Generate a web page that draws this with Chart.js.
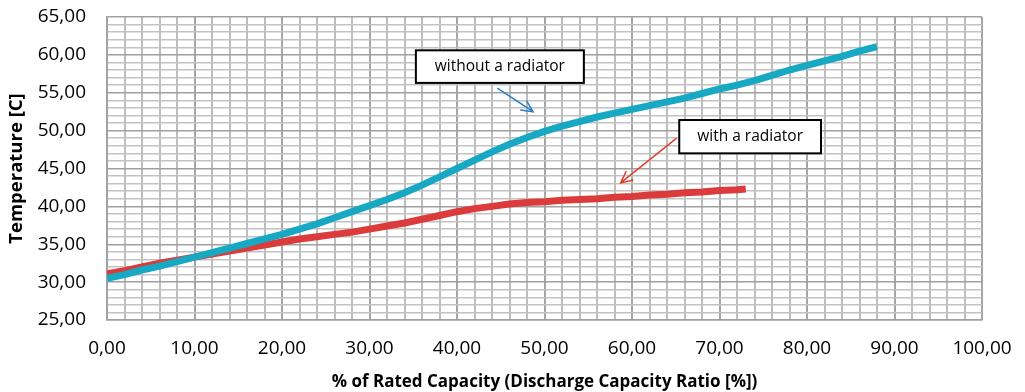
<!DOCTYPE html>
<html>
<head>
<meta charset="utf-8">
<script src="https://cdn.jsdelivr.net/npm/chart.js@4.4.1/dist/chart.umd.min.js"></script>
<style>
  html, body { margin: 0; padding: 0; background: #ffffff; }
  #wrap { width: 1025px; height: 392px; position: relative; }
</style>
</head>
<body>
<div id="wrap"><canvas id="c" width="1025" height="392"></canvas></div>
<script>
// ---- Data ----
const capacityWithout = [0,2,4,6,8,10,12,14,16,18,20,22,24,26,28,30,32,34,36,38,40,42,44,46,48,50,52,54,56,58,60,62,64,66,68,70,72,74,76,78,80,82,84,86,88];
const tempWithout = [30.5,31.0,31.6,32.1,32.7,33.3,33.9,34.5,35.1,35.7,36.3,37.0,37.7,38.5,39.3,40.1,40.9,41.8,42.8,43.9,45.0,46.1,47.2,48.2,49.1,49.9,50.6,51.2,51.8,52.3,52.8,53.3,53.8,54.3,54.9,55.5,56.0,56.6,57.3,58.0,58.6,59.2,59.8,60.5,61.1];
const capacityWith = [0,2,4,6,8,10,12,14,16,18,20,22,24,26,28,30,32,34,36,38,40,42,44,46,48,50,52,54,56,58,60,62,64,66,68,70,72,73];
const tempWith = [31.1,31.5,32.0,32.5,32.9,33.3,33.7,34.1,34.5,34.9,35.3,35.7,36.0,36.3,36.6,37.0,37.4,37.8,38.3,38.8,39.3,39.7,40.0,40.3,40.5,40.6,40.8,40.9,41.0,41.2,41.3,41.5,41.6,41.8,41.9,42.1,42.2,42.3];
const seriesNames = ["without a radiator", "with a radiator"];
const xTitle = "% of Rated Capacity (Discharge Capacity Ratio [%])";
const yTitle = "Temperature [C]";
const xRange = [0, 100];
const yRange = [25, 65];

// annotation boxes & arrows in data units
const notes = [
  { text: "without a radiator", box: [35.3, 60.6, 54.5, 56.3], arrow: [44.6, 55.6, 48.7, 52.5], color: "#2e7fc0" },
  { text: "with a radiator", box: [65.4, 51.4, 81.6, 47.0], arrow: [65.1, 49.0, 58.7, 43.1], color: "#e0402f" }
];

function fmt(v) { return v.toFixed(2).replace('.', ','); }
function toPts(xs, ys) { return xs.map((x, i) => ({ x: x, y: ys[i] })); }

const annotPlugin = {
  id: 'annot',
  afterDatasetsDraw(chart) {
    const ctx = chart.ctx, sx = chart.scales.x, sy = chart.scales.y;
    ctx.save();
    notes.forEach(n => {
      const x1 = sx.getPixelForValue(n.box[0]), y1 = sy.getPixelForValue(n.box[1]);
      const x2 = sx.getPixelForValue(n.box[2]), y2 = sy.getPixelForValue(n.box[3]);
      ctx.fillStyle = '#ffffff';
      ctx.fillRect(x1, y1, x2 - x1, y2 - y1);
      ctx.strokeStyle = '#000000';
      ctx.lineWidth = 2;
      ctx.strokeRect(x1, y1, x2 - x1, y2 - y1);
      ctx.fillStyle = '#000000';
      ctx.font = '15.5px "Open Sans", sans-serif';
      ctx.textAlign = 'center';
      ctx.textBaseline = 'middle';
      ctx.fillText(n.text, (x1 + x2) / 2, (y1 + y2) / 2);
      const ax1 = sx.getPixelForValue(n.arrow[0]), ay1 = sy.getPixelForValue(n.arrow[1]);
      const ax2 = sx.getPixelForValue(n.arrow[2]), ay2 = sy.getPixelForValue(n.arrow[3]);
      ctx.strokeStyle = n.color;
      ctx.lineWidth = 1.5;
      ctx.beginPath();
      ctx.moveTo(ax1, ay1); ctx.lineTo(ax2, ay2);
      const ang = Math.atan2(ay2 - ay1, ax2 - ax1), L = 13, a = 0.45;
      ctx.moveTo(ax2 - L * Math.cos(ang - a), ay2 - L * Math.sin(ang - a));
      ctx.lineTo(ax2, ay2);
      ctx.lineTo(ax2 - L * Math.cos(ang + a), ay2 - L * Math.sin(ang + a));
      ctx.stroke();
    });
    ctx.restore();
  }
};

const bgPlugin = {
  id: 'bg',
  beforeDraw(chart) {
    const ctx = chart.ctx;
    ctx.save(); ctx.fillStyle = '#ffffff'; ctx.fillRect(0, 0, chart.width, chart.height); ctx.restore();
  }
};

new Chart(document.getElementById('c'), {
  type: 'line',
  data: {
    datasets: [
      { label: seriesNames[0], data: toPts(capacityWithout, tempWithout), borderColor: '#17a8c4', backgroundColor: '#17a8c4', borderWidth: 7, pointRadius: 0, tension: 0, fill: false },
      { label: seriesNames[1], data: toPts(capacityWith, tempWith), borderColor: '#dc3b3b', backgroundColor: '#dc3b3b', borderWidth: 7, pointRadius: 0, tension: 0, fill: false }
    ]
  },
  options: {
    responsive: false,
    animation: false,
    devicePixelRatio: 1,
    layout: { padding: { top: 17, right: 43, bottom: 0, left: 0 } },
    plugins: { legend: { display: false }, tooltip: { enabled: false } },
    scales: {
      x: {
        type: 'linear', min: xRange[0], max: xRange[1],
        afterFit(s) { s.height = 72; s.paddingLeft = 0; s.paddingRight = 0; },
        border: { display: true, color: '#a0a0a0', width: 1.5 },
        grid: { drawTicks: false, lineWidth: 2, color: c => (c.tick && c.tick.value % 10 === 0) ? '#a6a6a6' : '#bdbdbd' },
        ticks: { stepSize: 2, autoSkip: false, maxRotation: 0, padding: 17, color: '#000', font: { family: '"Open Sans", sans-serif', size: 19 },
          callback: v => (Math.round(v) % 10 === 0) ? fmt(v) : '' },
        title: { display: true, text: xTitle, color: '#000', padding: { top: 0, bottom: 0 }, font: { family: '"Open Sans", sans-serif', size: 17, weight: 'bold', lineHeight: 1.2 } }
      },
      y: {
        type: 'linear', min: yRange[0], max: yRange[1],
        afterFit(s) { s.width = 107; s.paddingTop = 0; s.paddingBottom = 0; },
        border: { display: true, color: '#a0a0a0', width: 1.5 },
        grid: { drawTicks: false, lineWidth: 1.5, color: c => (c.tick && c.tick.value % 5 === 0) ? '#a0a0a0' : '#c2c2c2' },
        ticks: { stepSize: 1, autoSkip: false, padding: 21, color: '#000', font: { family: '"Open Sans", sans-serif', size: 19 },
          callback: v => (Math.round(v) % 5 === 0) ? fmt(v) : '' },
        title: { display: true, text: yTitle, color: '#000', padding: { top: 6, bottom: 0 }, font: { family: '"Open Sans", sans-serif', size: 18.5, weight: 'bold', lineHeight: 1.2 } }
      }
    }
  },
  plugins: [bgPlugin, annotPlugin]
});
</script>
</body>
</html>
